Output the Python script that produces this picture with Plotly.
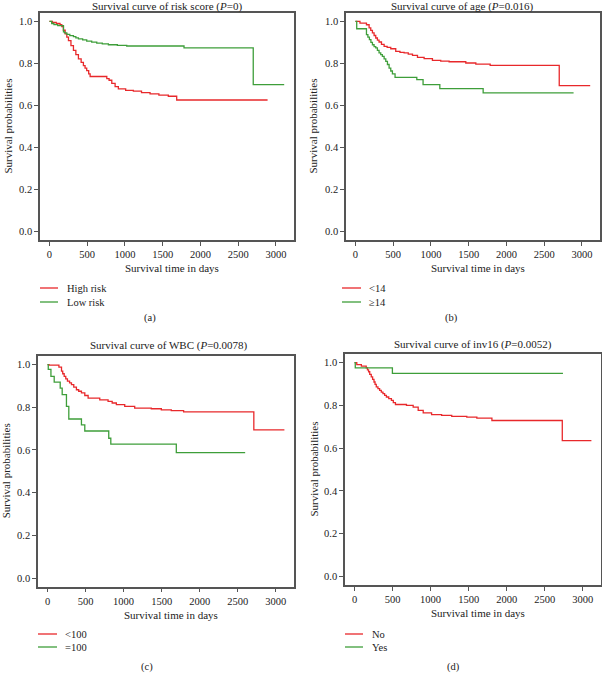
import plotly.graph_objects as go

W, H = 602, 674

# ---------------- data ----------------
# (a) risk score
a_high_t = [0, 40, 90, 140, 164, 185, 208, 230, 252, 285, 318, 350, 384, 420, 450, 472, 494, 520, 539,
            760, 790, 826, 870, 913, 1010, 1112, 1220, 1333, 1450, 1575, 1686, 2890]
a_high_s = [1.0, 0.995, 0.99, 0.985, 0.975, 0.958, 0.941, 0.925, 0.909, 0.885, 0.862, 0.842, 0.822, 0.805,
            0.79, 0.778, 0.766, 0.75, 0.738, 0.728, 0.72, 0.705, 0.69, 0.679, 0.672, 0.668, 0.661, 0.655,
            0.649, 0.644, 0.626, 0.626]
a_low_t = [0, 30, 60, 110, 186, 200, 230, 270, 318, 350, 384, 440, 494, 560, 627, 700, 781, 900, 1024,
           1783, 2700, 3110]
a_low_s = [1.0, 0.99, 0.985, 0.98, 0.95, 0.945, 0.938, 0.932, 0.928, 0.922, 0.917, 0.912, 0.906, 0.901,
           0.897, 0.893, 0.889, 0.886, 0.883, 0.874, 0.699, 0.699]

# (b) age
b_lt14_t = [0, 60, 146, 181, 203, 225, 247, 269, 291, 313, 345, 380, 420, 468, 534, 590, 645, 700, 756,
            822, 910, 1020, 1130, 1241, 1462, 1595, 1785, 2700, 3110]
b_lt14_s = [1.0, 0.992, 0.984, 0.969, 0.957, 0.945, 0.933, 0.921, 0.911, 0.902, 0.891, 0.881, 0.876, 0.870,
            0.857, 0.853, 0.85, 0.844, 0.838, 0.829, 0.823, 0.815, 0.811, 0.808, 0.802, 0.797, 0.791,
            0.694, 0.694]
b_ge14_t = [0, 17, 146, 165, 185, 205, 225, 247, 269, 291, 313, 335, 357, 380, 402, 424, 446, 468, 490,
            525, 813, 896, 1118, 1692, 2890]
b_ge14_s = [1.0, 0.965, 0.937, 0.925, 0.913, 0.9, 0.889, 0.88, 0.874, 0.862, 0.85, 0.842, 0.834, 0.822,
            0.81, 0.795, 0.778, 0.764, 0.75, 0.734, 0.723, 0.699, 0.680, 0.66, 0.66]

# (c) WBC
c_lt100_t = [0, 20, 150, 184, 200, 219, 240, 262, 290, 315, 345, 380, 410, 446, 490, 534, 687, 796, 850,
             905, 1015, 1146, 1364, 1496, 1627, 1789, 2712, 3114]
c_lt100_s = [1.0, 0.997, 0.988, 0.969, 0.957, 0.945, 0.933, 0.922, 0.914, 0.906, 0.894, 0.882, 0.875,
             0.867, 0.855, 0.843, 0.835, 0.828, 0.82, 0.812, 0.804, 0.796, 0.793, 0.788, 0.784, 0.778,
             0.694, 0.694]
c_ge100_t = [0, 10, 45, 88, 167, 193, 249, 280, 446, 490, 805, 832, 1693, 2598]
c_ge100_s = [1.0, 0.977, 0.945, 0.918, 0.890, 0.859, 0.804, 0.745, 0.718, 0.689, 0.655, 0.627, 0.588, 0.588]

# (d) inv16
d_no_t = [0, 30, 90, 154, 170, 185, 200, 220, 238, 256, 270, 286, 308, 330, 352, 374, 396, 419, 450, 485,
          510, 538, 683, 771, 837, 903, 1013, 1145, 1278, 1476, 1608, 1806, 2731, 3114]
d_no_s = [1.0, 0.99, 0.983, 0.975, 0.966, 0.957, 0.945, 0.933, 0.921, 0.909, 0.898, 0.886, 0.878, 0.870,
          0.862, 0.855, 0.847, 0.839, 0.831, 0.823, 0.813, 0.804, 0.8, 0.792, 0.776, 0.765, 0.757, 0.753,
          0.748, 0.745, 0.740, 0.729, 0.635, 0.635]
d_yes_t = [0, 10, 498, 2740]
d_yes_s = [1.0, 0.975, 0.949, 0.949]

titles = ["Survival curve of risk score (<i>P</i>=0)",
          "Survival curve of age (<i>P</i>=0.016)",
          "Survival curve of WBC (<i>P</i>=0.0078)",
          "Survival curve of inv16 (<i>P</i>=0.0052)"]
legend_labels = [["High risk", "Low risk"], ["<14", "≥14"], ["<100", "=100"], ["No", "Yes"]]
captions = ["(a)", "(b)", "(c)", "(d)"]
x_ticks = [0, 500, 1000, 1500, 2000, 2500, 3000]
y_ticks = [0.0, 0.2, 0.4, 0.6, 0.8, 1.0]

series = [
    [(a_high_t, a_high_s), (a_low_t, a_low_s)],
    [(b_lt14_t, b_lt14_s), (b_ge14_t, b_ge14_s)],
    [(c_lt100_t, c_lt100_s), (c_ge100_t, c_ge100_s)],
    [(d_no_t, d_no_s), (d_yes_t, d_yes_s)],
]

# ---------------- layout geometry (pixels) ----------------
RED = "#e8282b"
GREEN = "#3e9e3a"
FONT = "Liberation Serif"
TXT = "#222222"
FS_TITLE = 11
FS_TICK = 10.5
FS_LEG = 10.5

panels = [
    dict(x0=40, x1=294, y0=13, y1=240, title=(167, 6.5), xt=268, yt=8, leg=(40, 58, 65, 288, 302), cap=(150, 318)),
    dict(x0=346, x1=600, y0=13, y1=240, title=(462, 6.5), xt=268, yt=313, leg=(342, 361, 367, 288, 302), cap=(451, 318)),
    dict(x0=38, x1=294, y0=356, y1=586.7, title=(169, 345), xt=615, yt=6, leg=(38, 57, 63, 634, 647), cap=(147, 667)),
    dict(x0=345, x1=601, y0=354, y1=585, title=(473, 344), xt=613, yt=313, leg=(345, 363, 370, 634, 647), cap=(453, 667)),
]


def xp(px):
    return px / W


def yp(py):
    return 1 - py / H


fig = go.Figure()
annotations = []
shapes = []
colors = [RED, GREEN]

for i, p in enumerate(panels):
    n = "" if i == 0 else str(i + 1)
    xa, ya = "x" + n, "y" + n
    for j, (t, s) in enumerate(series[i]):
        fig.add_trace(go.Scatter(x=t, y=s, mode="lines", line=dict(color=colors[j], width=1.3, shape="hv"),
                                 xaxis=xa, yaxis=ya, showlegend=False, hoverinfo="skip"))
    axis_common = dict(showline=True, mirror=True, linecolor="#555555", linewidth=1.5, ticks="outside",
                       ticklen=4, tickwidth=1, tickcolor="#555555", showgrid=False, zeroline=False,
                       tickfont=dict(family=FONT, size=FS_TICK, color=TXT))
    fig.layout["xaxis" + n] = dict(axis_common, domain=[xp(p["x0"]), xp(p["x1"])], range=[-125, 3240],
                                   tickvals=x_ticks, anchor=ya)
    fig.layout["yaxis" + n] = dict(axis_common, domain=[yp(p["y1"]), yp(p["y0"])], range=[-0.04, 1.04],
                                   tickvals=y_ticks, tickformat=".1f", anchor=xa)
    # title
    annotations.append(dict(text=titles[i], x=xp(p["title"][0]), y=yp(p["title"][1]), xref="paper", yref="paper",
                            showarrow=False, xanchor="center", yanchor="middle",
                            font=dict(family=FONT, size=FS_TITLE, color=TXT)))
    # x title
    annotations.append(dict(text="Survival time in days", x=xp((p["x0"] + p["x1"]) / 2 + 5), y=yp(p["xt"]),
                            xref="paper", yref="paper", showarrow=False, xanchor="center", yanchor="middle",
                            font=dict(family=FONT, size=FS_TITLE, color=TXT)))
    # y title
    annotations.append(dict(text="Survival probabilities", x=xp(p["yt"]), y=yp((p["y0"] + p["y1"]) / 2),
                            xref="paper", yref="paper", showarrow=False, xanchor="center", yanchor="middle",
                            textangle=-90, font=dict(family=FONT, size=FS_TITLE, color=TXT)))
    # legend
    lx0, lx1, tx, ly1, ly2 = p["leg"]
    for j, ly in enumerate([ly1, ly2]):
        shapes.append(dict(type="line", xref="paper", yref="paper", x0=xp(lx0), x1=xp(lx1), y0=yp(ly), y1=yp(ly),
                           line=dict(color=colors[j], width=1.3)))
        annotations.append(dict(text=legend_labels[i][j], x=xp(tx), y=yp(ly), xref="paper", yref="paper",
                                showarrow=False, xanchor="left", yanchor="middle",
                                font=dict(family=FONT, size=FS_LEG, color=TXT)))
    # caption
    annotations.append(dict(text=captions[i], x=xp(p["cap"][0]), y=yp(p["cap"][1]), xref="paper", yref="paper",
                            showarrow=False, xanchor="center", yanchor="middle",
                            font=dict(family=FONT, size=FS_LEG, color=TXT)))

fig.update_layout(width=W, height=H, margin=dict(l=0, r=0, t=0, b=0), paper_bgcolor="white",
                  plot_bgcolor="white", annotations=annotations, shapes=shapes, showlegend=False)

fig.write_html("out.html", config={"displayModeBar": False},
               post_script="document.body.style.margin='0';document.body.style.padding='0';")
